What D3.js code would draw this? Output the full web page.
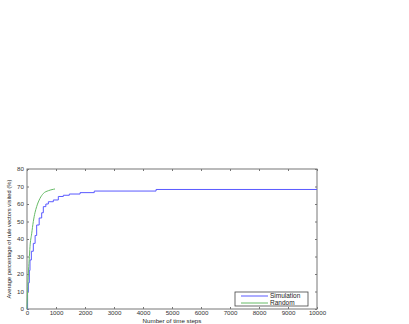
<!DOCTYPE html>
<html><head><meta charset="utf-8">
<script src="https://cdn.jsdelivr.net/npm/d3@7"></script>
<style>body{margin:0;background:#fff}svg{display:block}text{font-family:"Liberation Sans",Arial,sans-serif;fill:#222}</style>
</head><body>
<script>
const xTicks = [0,1000,2000,3000,4000,5000,6000,7000,8000,9000,10000];
const yTicks = [0,10,20,30,40,50,60,70,80];
const simT = [0, 20, 46, 80, 103, 150, 218, 280, 333, 420, 506, 563, 650, 736, 908, 1080, 1253, 1460, 1830, 2320, 4450, 10000];
const simV = [0, 10, 15, 22, 28, 33, 37.5, 42, 48, 52, 55, 58.5, 60, 61.3, 62.3, 64.3, 65, 65.7, 66.5, 67.4, 68.3, 68.3];
const randT = [0, 20, 46, 75, 103, 161, 218, 275, 333, 448, 563, 736, 908, 966];
const randV = [0, 10, 20, 28, 35.6, 43, 50, 55, 58.5, 63.2, 66, 67.6, 68.4, 68.6];
const seriesNames = ["Simulation","Random"];
const colors = ["#5a5aff","#66bb66"];

const W=409,H=324;
const svg=d3.select("body").append("svg").attr("width",W).attr("height",H);
const L=27,R=317,T=169,B=309;
const x=d3.scaleLinear().domain([0,10000]).range([L,R]);
const y=d3.scaleLinear().domain([0,80]).range([B,T]);
const ax="#777";
const g=svg.append("g");
g.append("rect").attr("x",L).attr("y",T).attr("width",R-L).attr("height",B-T).attr("fill","none").attr("stroke",ax).attr("stroke-width",1);
const xb=g.append("g").attr("transform",`translate(0,${B})`).call(d3.axisBottom(x).tickValues(xTicks).tickSize(-2).tickPadding(1.2).tickFormat(d3.format("d")));
const xt=g.append("g").attr("transform",`translate(0,${T})`).call(d3.axisTop(x).tickValues(xTicks).tickSize(-2).tickFormat(""));
const yl=g.append("g").attr("transform",`translate(${L},0)`).call(d3.axisLeft(y).tickValues(yTicks).tickSize(-2).tickPadding(3).tickFormat(d3.format("d")));
const yr=g.append("g").attr("transform",`translate(${R},0)`).call(d3.axisRight(y).tickValues(yTicks).tickSize(-2).tickFormat(""));
[xb,xt,yl,yr].forEach(a=>{a.select(".domain").remove();a.selectAll("line").attr("stroke",ax);a.selectAll("text").attr("font-size",6.2).style("fill","#333");});
const simData=simT.map((t,i)=>[t,simV[i]]);
const randData=randT.map((t,i)=>[t,randV[i]]);
svg.append("path").datum(simData).attr("fill","none").attr("stroke",colors[0]).attr("stroke-width",1)
  .attr("d",d3.line().x(d=>x(d[0])).y(d=>y(d[1])).curve(d3.curveStepAfter));
svg.append("path").datum(randData).attr("fill","none").attr("stroke",colors[1]).attr("stroke-width",1)
  .attr("d",d3.line().x(d=>x(d[0])).y(d=>y(d[1])).curve(d3.curveMonotoneX));
svg.append("text").attr("x",(L+R)/2).attr("y",322.5).attr("text-anchor","middle").attr("font-size",6.2).text("Number of time steps");
svg.append("text").attr("transform",`translate(11,${(T+B)/2}) rotate(-90)`).attr("text-anchor","middle").attr("font-size",5.8).text("Average percentage of rule vectors visited (%)");
const lg=svg.append("g");
lg.append("rect").attr("x",235).attr("y",292).attr("width",73).attr("height",14).attr("fill","#fff").attr("stroke","#444").attr("stroke-width",0.8);
seriesNames.forEach((n,i)=>{
  const yy=296+i*7;
  lg.append("line").attr("x1",241).attr("x2",268).attr("y1",yy).attr("y2",yy).attr("stroke",colors[i]).attr("stroke-width",1);
  lg.append("text").attr("x",270).attr("y",yy+2.3).attr("font-size",6.5).text(n);
});
</script>
</body></html>
